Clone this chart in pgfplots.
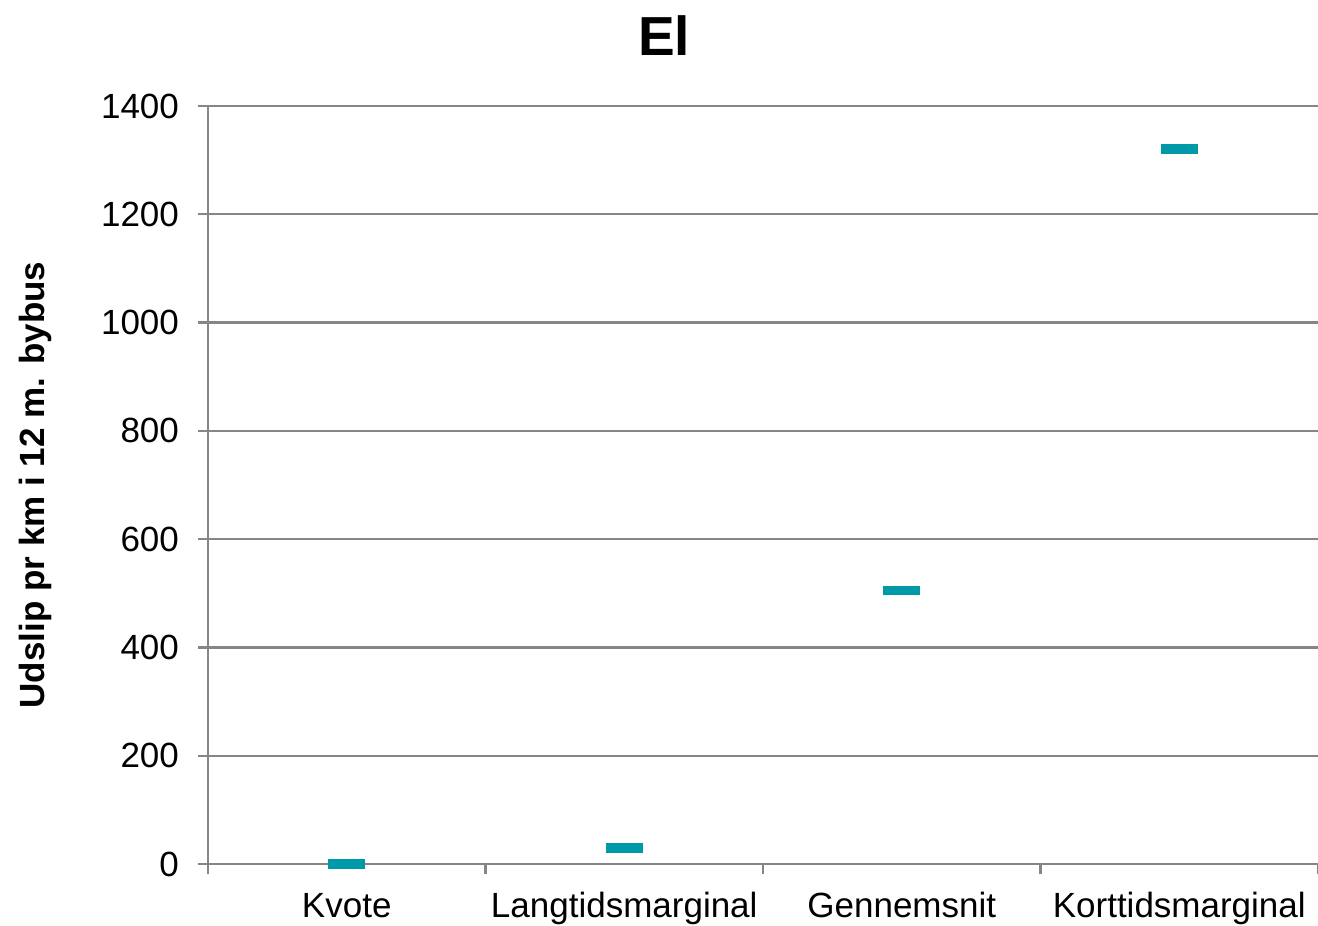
\documentclass[border=0pt]{standalone}
\usepackage{fontspec}
\setmainfont{Liberation Sans}
\usepackage{pgfplots}
\pgfplotsset{compat=1.18}
\definecolor{teal1}{RGB}{0,153,168}
\definecolor{axgray}{RGB}{134,134,134}
\begin{document}
\begin{tikzpicture}
\begin{axis}[
  name=ax,
  scale only axis,
  width=555pt, height=379pt,
  xmin=0, xmax=4,
  ymin=0, ymax=1400,
  ytick={0,200,...,1400},
  xtick={0,1,2,3,4},
  xticklabels={Kvote,Langtidsmarginal,Gennemsnit,Korttidsmarginal},
  x tick label as interval,
  axis x line*=bottom,
  axis y line*=left,
  axis line style={axgray, line width=1.1pt, -},
  ymajorgrids,
  major grid style={axgray, line width=1.1pt},
  tick style={axgray, line width=1.1pt},
  tick align=outside,
  major tick length=5pt,
  /pgf/number format/assume math mode=true,
  /pgf/number format/1000 sep={},
  ticklabel style={font=\fontsize{17.5}{20}\selectfont},
  xticklabel style={anchor=base, yshift=-22pt},
  yticklabel style={xshift=-6pt},
  ylabel={Udslip pr km i 12 m. bybus},
  ylabel style={font=\fontsize{17.5}{20}\selectfont\bfseries, yshift=18pt},
  title={El},
  title style={font=\fontsize{27.5}{30}\selectfont\bfseries, at={(0.411,1)}, anchor=base, yshift=19pt},
  clip=false,
]
\addplot[only marks, mark=-, mark size=9.25pt, mark options={draw=teal1, line width=4.8pt}] coordinates {
  (0.5,0) (1.5,30) (2.5,505) (3.5,1321)
};
\end{axis}
\pgfresetboundingbox
\path ([shift={(-104pt,-31pt)}]ax.south west) rectangle ([shift={(0pt,53pt)}]ax.north east);
\end{tikzpicture}
\end{document}
